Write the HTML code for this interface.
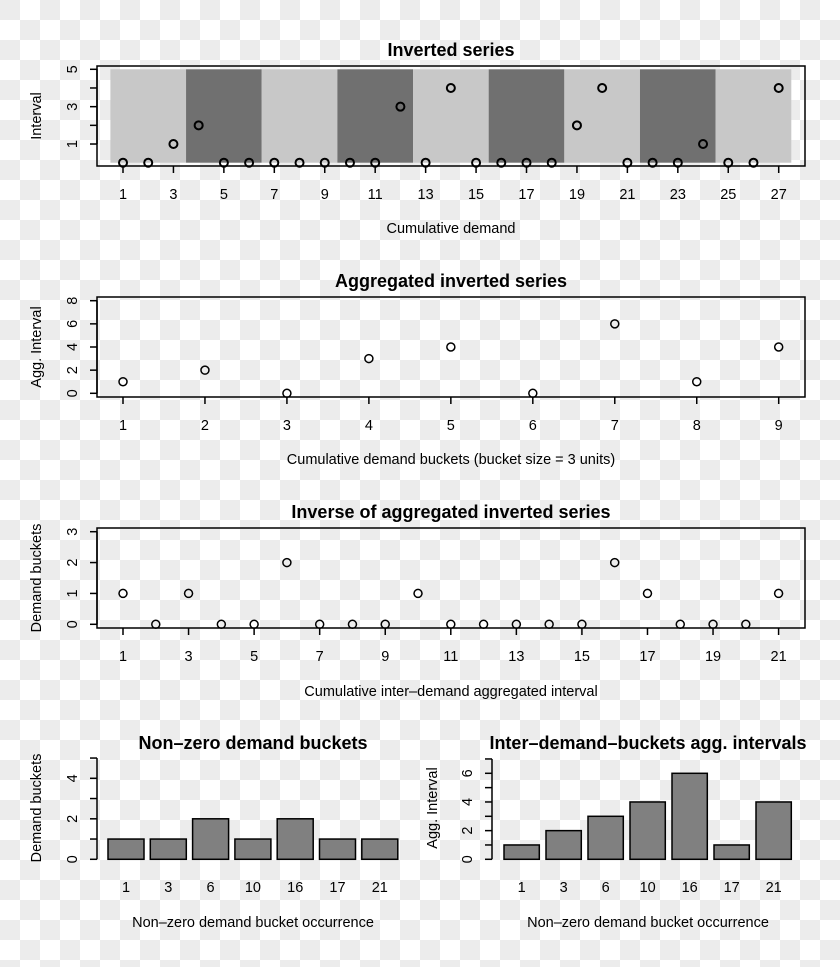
<!DOCTYPE html>
<html><head><meta charset="utf-8"><style>
html,body{margin:0;padding:0;}
body{width:840px;height:967px;overflow:hidden;
background-color:#fff;
background-image:linear-gradient(45deg,#ececec 25%,transparent 25%,transparent 75%,#ececec 75%),linear-gradient(45deg,#ececec 25%,transparent 25%,transparent 75%,#ececec 75%);
background-size:40px 40px;background-position:20px 0,0 20px;}
svg{position:absolute;left:0;top:0;font-family:"Liberation Sans",Arial,sans-serif;}
</style></head><body>
<svg id="chart" width="840" height="967" xmlns="http://www.w3.org/2000/svg"></svg>
<script>
// Panel 1: inverted series
const p1X = [1,2,3,4,5,6,7,8,9,10,11,12,13,14,15,16,17,18,19,20,21,22,23,24,25,26,27];
const p1Y = [0,0,1,2,0,0,0,0,0,0,0,3,0,4,0,0,0,0,2,4,0,0,0,1,0,0,4];
const p1XTicks = [1,3,5,7,9,11,13,15,17,19,21,23,25,27];
const p1YTicks = [1,2,3,4,5];
const p1YLabels = [1,3,5];
// Panel 2: aggregated inverted series
const p2X = [1,2,3,4,5,6,7,8,9];
const p2Y = [1,2,0,3,4,0,6,1,4];
const p2YTicks = [0,2,4,6,8];
// Panel 3: inverse of aggregated inverted series
const p3X = [1,2,3,4,5,6,7,8,9,10,11,12,13,14,15,16,17,18,19,20,21];
const p3Y = [1,0,1,0,0,2,0,0,0,1,0,0,0,0,0,2,1,0,0,0,1];
const p3XTicks = [1,3,5,7,9,11,13,15,17,19,21];
const p3YTicks = [0,1,2,3];
// Panel 4/5: bar charts
const barCats = ["1","3","6","10","16","17","21"];
const p4Vals = [1,1,2,1,2,1,1];
const p5Vals = [1,2,3,4,6,1,4];
const p4YTicks = [0,1,2,3,4,5];
const p4YLabels = [0,2,4];
const p5YTicks = [0,1,2,3,4,5,6,7];
const p5YLabels = [0,2,4,6];

const TS=14.5, HS=18;
const NS="http://www.w3.org/2000/svg";
const svg=document.getElementById('chart');
function mk(tag,attrs,parent,name,text){
  const e=document.createElementNS(NS,tag);
  for(const k in attrs)e.setAttribute(k,attrs[k]);
  
  
  if(text!==undefined)e.textContent=text;
  (parent||svg).appendChild(e);return e;
}
function lin(d0,d1,r0,r1){return v=>r0+(v-d0)*(r1-r0)/(d1-d0);}
function txt(x,y,s,size,name,opts={}){
  const a={x:x,y:y,'font-size':size,'text-anchor':opts.anchor||'middle',fill:'#000'};
  if(opts.bold)a['font-weight']='bold';
  if(opts.rot)a.transform=`rotate(-90 ${x} ${y})`;
  return mk('text',a,svg,name,s);
}
function yAxis(ax,sy,ticks,labels,name,labX){
  mk('line',{x1:ax,x2:ax,y1:sy(ticks[0]),y2:sy(ticks[ticks.length-1]),stroke:'#000','stroke-width':1.5},svg,name+'-line');
  ticks.forEach(t=>mk('line',{x1:ax-7,x2:ax,y1:sy(t),y2:sy(t),stroke:'#000','stroke-width':1.5},svg,name+'-tick'));
  labels.forEach(t=>txt(labX,sy(t),String(t),TS,name+'-label',{rot:true}));
}
function xAxisTicks(ay,sx,ticks,name,labY){
  ticks.forEach(t=>{
    mk('line',{x1:sx(t),x2:sx(t),y1:ay,y2:ay+7,stroke:'#000','stroke-width':1.5},svg,name+'-tick');
    txt(sx(t),labY,String(t),TS,name+'-label');
  });
}
function box(x0,y0,x1,y1,name){
  mk('rect',{x:x0,y:y0,width:x1-x0,height:y1-y0,fill:'none',stroke:'#000','stroke-width':1.5},svg,name);
}
function pts(xs,ys,sx,sy,name,sw){
  xs.forEach((x,i)=>mk('circle',{cx:sx(x),cy:sy(ys[i]),r:4,fill:'none',stroke:'#000','stroke-width':sw},svg,name));
}

// ---- Panel 1
{
  const sx=lin(1,27,123,778.7), sy=lin(0,5,162.7,69.3);
  for(let k=0;k<9;k++){
    const a=0.5+3*k;
    mk('rect',{x:sx(a),y:sy(5),width:sx(a+3)-sx(a),height:sy(0)-sy(5),fill:k%2?'#707070':'#c8c8c8'},svg,'demand-band');
  }
  box(97,66,805,166,'plot1-frame');
  yAxis(97,sy,p1YTicks,p1YLabels,'plot1-y-axis',77);
  xAxisTicks(166,sx,p1XTicks,'plot1-x-axis',199);
  pts(p1X,p1Y,sx,sy,'plot1-point',2);
  txt(451,56,'Inverted series',HS,'plot1-title',{bold:true});
  txt(451,233,'Cumulative demand',TS,'plot1-x-title');
  txt(41,116,'Interval',TS,'plot1-y-title',{rot:true});
}
// ---- Panel 2
{
  const sx=lin(1,9,123,778.7), sy=lin(0,8,393.3,300.7);
  box(97,297,805,397,'plot2-frame');
  yAxis(97,sy,p2YTicks,p2YTicks,'plot2-y-axis',77);
  xAxisTicks(397,sx,p2X,'plot2-x-axis',430);
  pts(p2X,p2Y,sx,sy,'plot2-point',1.5);
  txt(451,287,'Aggregated inverted series',HS,'plot2-title',{bold:true});
  txt(451,464,'Cumulative demand buckets (bucket size = 3 units)',TS,'plot2-x-title');
  txt(41,347,'Agg. Interval',TS,'plot2-y-title',{rot:true});
}
// ---- Panel 3
{
  const sx=lin(1,21,123,778.6), sy=lin(0,3,624.3,531.7);
  box(97,528,805,628,'plot3-frame');
  yAxis(97,sy,p3YTicks,p3YTicks,'plot3-y-axis',77);
  xAxisTicks(628,sx,p3XTicks,'plot3-x-axis',661);
  pts(p3X,p3Y,sx,sy,'plot3-point',1.5);
  txt(451,518,'Inverse of aggregated inverted series',HS,'plot3-title',{bold:true});
  txt(451,696,'Cumulative inter\u2013demand aggregated interval',TS,'plot3-x-title');
  txt(41,578,'Demand buckets',TS,'plot3-y-title',{rot:true});
}
// ---- Bar panels
function bars(vals,ax,x0,bw,step,sy,name){
  vals.forEach((v,i)=>{
    const x=x0+i*step;
    mk('rect',{x:x,y:sy(v),width:bw,height:sy(0)-sy(v),fill:'#808080',stroke:'#000','stroke-width':1.5},svg,name+'-bar');
    txt(x+bw/2,892,barCats[i],TS,name+'-x-label');
  });
}
{
  const sy=lin(0,4,859.3,778.3);
  yAxis(97,sy,p4YTicks,p4YLabels,'plot4-y-axis',77);
  bars(p4Vals,97,108,36,42.3,sy,'plot4');
  txt(253,749,'Non\u2013zero demand buckets',HS,'plot4-title',{bold:true});
  txt(253,927,'Non\u2013zero demand bucket occurrence',TS,'plot4-x-title');
  txt(41,808,'Demand buckets',TS,'plot4-y-title',{rot:true});
}
{
  const sy=lin(0,6,859.3,773.3);
  yAxis(492,sy,p5YTicks,p5YLabels,'plot5-y-axis',472);
  bars(p5Vals,492,504,35.3,42,sy,'plot5');
  txt(648,749,'Inter\u2013demand\u2013buckets agg. intervals',HS,'plot5-title',{bold:true});
  txt(648,927,'Non\u2013zero demand bucket occurrence',TS,'plot5-x-title');
  txt(437,808,'Agg. Interval',TS,'plot5-y-title',{rot:true});
}
</script>
</body></html>
